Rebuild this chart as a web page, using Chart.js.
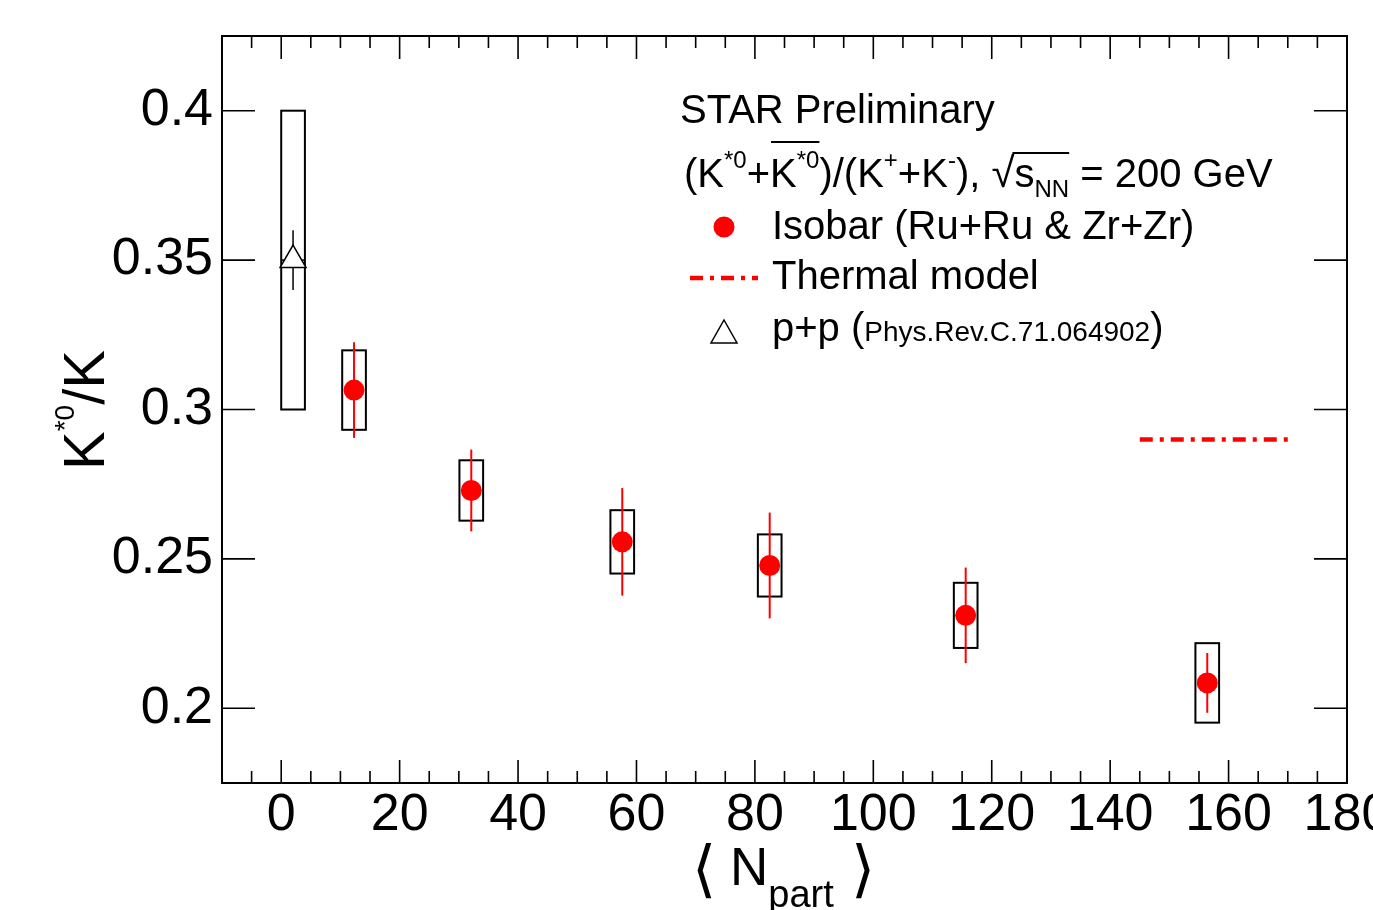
<!DOCTYPE html>
<html>
<head>
<meta charset="utf-8">
<title>K*0/K vs Npart</title>
<script src="https://cdn.jsdelivr.net/npm/chart.js@4.4.1/dist/chart.umd.min.js"></script>
<style>
  html, body { margin: 0; padding: 0; background: #fff; }
  canvas { display: block; }
</style>
</head>
<body>
<canvas id="ratioChart" width="1373" height="910"></canvas>
<script>
// Isobar (Ru+Ru & Zr+Zr) points
var npart = [12.3, 32.1, 57.6, 82.5, 115.6, 156.4];
var ratio = [0.3065, 0.2729, 0.2557, 0.2478, 0.2311, 0.2085];
var statErr = [0.0160, 0.0137, 0.0180, 0.0177, 0.0160, 0.0100];
var sysErr = [0.0133, 0.0101, 0.0106, 0.0104, 0.0109, 0.0133];

// p+p reference (Phys.Rev.C.71.064902)
var ppNpart = [2];
var ppRatio = [0.35];
var ppStat = [0.010];
var ppSys = [0.050];

// thermal model line
var thermalNpart = [145, 170];
var thermalRatio = [0.29, 0.29];

// axis ticks
var xTicks = [0, 20, 40, 60, 80, 100, 120, 140, 160, 180];
var xTickLabels = ['0', '20', '40', '60', '80', '100', '120', '140', '160', '180'];
var yTicks = [0.2, 0.25, 0.3, 0.35, 0.4];
var yTickLabels = ['0.2', '0.25', '0.3', '0.35', '0.4'];

var FONT = '"Liberation Sans", Arial, Helvetica, sans-serif';
var RED = '#ff0000';
var BOX_HALF = 2; // half width of the systematic boxes, in Npart units

function pts(xs, ys) {
  return xs.map(function (v, i) { return { x: v, y: ys[i] }; });
}

// write a run of text pieces with different sizes / vertical offsets
function rich(ctx, x, y, parts) {
  parts.forEach(function (p) {
    ctx.font = p.size + 'px ' + FONT;
    var w = ctx.measureText(p.t).width;
    ctx.fillText(p.t, x, y + (p.dy || 0));
    p.x0 = x; p.x1 = x + w;
    x += w;
  });
  return x;
}

var errorBars = {
  id: 'errorBars',
  beforeDatasetsDraw: function (chart) {
    var ctx = chart.ctx, xs = chart.scales.x, ys = chart.scales.y;
    ctx.save();
    // systematic boxes
    ctx.strokeStyle = '#000';
    ctx.lineWidth = 2;
    function box(xv, yv, s) {
      var l = xs.getPixelForValue(xv - BOX_HALF), r = xs.getPixelForValue(xv + BOX_HALF);
      var t = ys.getPixelForValue(yv + s), b = ys.getPixelForValue(yv - s);
      ctx.strokeRect(l, t, r - l, b - t);
    }
    npart.forEach(function (v, i) { box(v, ratio[i], sysErr[i]); });
    ppNpart.forEach(function (v, i) { box(v, ppRatio[i], ppSys[i]); });

    // statistical bars
    function bar(xv, yv, s, col) {
      var px = xs.getPixelForValue(xv);
      ctx.strokeStyle = col;
      ctx.beginPath();
      ctx.moveTo(px, ys.getPixelForValue(yv + s));
      ctx.lineTo(px, ys.getPixelForValue(yv - s));
      ctx.stroke();
    }
    ctx.lineWidth = 2;
    npart.forEach(function (v, i) { bar(v, ratio[i], statErr[i], RED); });
    ctx.lineWidth = 1.5;
    ppNpart.forEach(function (v, i) {
      bar(v, ppRatio[i], ppStat[i], '#000');
      var py = ys.getPixelForValue(ppRatio[i]);
      ctx.beginPath();
      ctx.moveTo(xs.getPixelForValue(v - BOX_HALF), py);
      ctx.lineTo(xs.getPixelForValue(v + BOX_HALF), py);
      ctx.stroke();
    });
    ctx.restore();
  }
};

var frameAndText = {
  id: 'frameAndText',
  afterDraw: function (chart) {
    var ctx = chart.ctx, a = chart.chartArea, xs = chart.scales.x, ys = chart.scales.y;
    ctx.save();
    ctx.strokeStyle = '#000';
    ctx.fillStyle = '#000';

    // frame
    ctx.lineWidth = 2;
    ctx.strokeRect(a.left, a.top, a.right - a.left, a.bottom - a.top);

    // inward ticks, x: major every 20, minor every 5
    ctx.lineWidth = 1.6;
    ctx.beginPath();
    for (var v = -10; v <= 180; v += 5) {
      var px = xs.getPixelForValue(v);
      var len = (v % 20 === 0) ? 23 : 12;
      ctx.moveTo(px, a.bottom); ctx.lineTo(px, a.bottom - len);
      ctx.moveTo(px, a.top); ctx.lineTo(px, a.top + len);
    }
    yTicks.forEach(function (t) {
      var py = ys.getPixelForValue(t);
      ctx.moveTo(a.left, py); ctx.lineTo(a.left + 33, py);
      ctx.moveTo(a.right, py); ctx.lineTo(a.right - 33, py);
    });
    ctx.stroke();

    ctx.textBaseline = 'alphabetic';
    ctx.textAlign = 'left';

    // y title K*0/K, rotated
    ctx.save();
    ctx.translate(104, 470);
    ctx.rotate(-Math.PI / 2);
    rich(ctx, 0, 0, [
      { t: 'K', size: 58 },
      { t: '*0', size: 28, dy: -30 },
      { t: '/K', size: 58 }
    ]);
    ctx.restore();

    // x title < N_part >
    ctx.font = '62px "DejaVu Sans", ' + FONT;
    ctx.fillText('\u27E8', 692, 890);
    rich(ctx, 730, 885, [
      { t: 'N', size: 53 },
      { t: 'part', size: 38, dy: 22 }
    ]);
    ctx.font = '62px "DejaVu Sans", ' + FONT;
    ctx.fillText('\u27E9', 851, 890);

    // legend / labels
    ctx.font = '40px ' + FONT;
    ctx.fillText('STAR Preliminary', 680, 123);

    var l2 = [
      { t: '(K', size: 40 },
      { t: '*0', size: 24, dy: -19 },
      { t: '+', size: 40 },
      { t: 'K', size: 40 },
      { t: '*0', size: 24, dy: -19 },
      { t: ')/(K', size: 40 },
      { t: '+', size: 24, dy: -19 },
      { t: '+K', size: 40 },
      { t: '-', size: 24, dy: -19 },
      { t: '), ', size: 40 },
      { t: '\u221A', size: 42 },
      { t: 's', size: 40 },
      { t: 'NN', size: 24, dy: 10 },
      { t: ' = 200 GeV', size: 40 }
    ];
    rich(ctx, 684, 187, l2);
    ctx.lineWidth = 2;
    ctx.beginPath();
    ctx.moveTo(l2[3].x0 + 1, 142); ctx.lineTo(l2[4].x1, 142);
    ctx.moveTo(l2[10].x1 - 2, 153); ctx.lineTo(l2[12].x1, 153);
    ctx.stroke();

    ctx.font = '40px ' + FONT;
    ctx.fillText('Isobar (Ru+Ru & Zr+Zr)', 772, 239);
    ctx.fillText('Thermal model', 772, 289);
    rich(ctx, 772, 341, [
      { t: 'p+p (', size: 40 },
      { t: 'Phys.Rev.C.71.064902', size: 28 },
      { t: ')', size: 40 }
    ]);

    // legend markers
    ctx.fillStyle = RED;
    ctx.beginPath();
    ctx.arc(724, 227, 10.5, 0, Math.PI * 2);
    ctx.fill();

    ctx.strokeStyle = RED;
    ctx.lineWidth = 4.5;
    ctx.setLineDash([13, 7, 4, 7]);
    ctx.beginPath();
    ctx.moveTo(690, 278); ctx.lineTo(758, 278);
    ctx.stroke();
    ctx.setLineDash([]);

    ctx.strokeStyle = '#000';
    ctx.lineWidth = 1.5;
    ctx.beginPath();
    ctx.moveTo(724, 320); ctx.lineTo(737, 343); ctx.lineTo(711, 343); ctx.closePath();
    ctx.stroke();

    ctx.restore();
  }
};

var ctx = document.getElementById('ratioChart').getContext('2d');
var ratioChart = new Chart(ctx, {
  type: 'scatter',
  data: {
    datasets: [{
      label: 'Isobar (Ru+Ru & Zr+Zr)',
      data: pts(npart, ratio),
      pointStyle: 'circle',
      pointRadius: 10.5,
      backgroundColor: RED,
      borderWidth: 0
    }, {
      label: 'p+p',
      data: pts(ppNpart, ppRatio),
      pointStyle: 'triangle',
      pointRadius: 15,
      backgroundColor: '#fff',
      borderColor: '#000',
      borderWidth: 1.5
    }, {
      label: 'Thermal model',
      data: pts(thermalNpart, thermalRatio),
      showLine: true,
      pointRadius: 0,
      borderColor: RED,
      borderWidth: 4.5,
      borderDash: [13, 7, 4, 7]
    }]
  },
  options: {
    responsive: false,
    animation: false,
    devicePixelRatio: 1,
    layout: { padding: { left: 0, top: 36, right: 26, bottom: 0 } },
    plugins: { legend: { display: false }, tooltip: { enabled: false } },
    scales: {
      x: {
        type: 'linear',
        min: -10,
        max: 180,
        grid: { display: false, drawTicks: false },
        border: { display: false },
        afterBuildTicks: function (s) { s.ticks = xTicks.map(function (v) { return { value: v }; }); },
        afterFit: function (s) { s.height = 127; s.paddingLeft = 0; s.paddingRight = 0; },
        ticks: {
          maxRotation: 0,
          autoSkip: false,
          padding: 1,
          color: '#000',
          font: { family: FONT, size: 52 },
          callback: function (v, i) { return xTickLabels[i]; }
        }
      },
      y: {
        min: 0.175,
        max: 0.425,
        grid: { display: false, drawTicks: false },
        border: { display: false },
        afterBuildTicks: function (s) { s.ticks = yTicks.map(function (v) { return { value: v }; }); },
        afterFit: function (s) { s.width = 222; s.paddingTop = 0; s.paddingBottom = 0; },
        ticks: {
          autoSkip: false,
          padding: 9,
          color: '#000',
          font: { family: FONT, size: 52 },
          callback: function (v, i) { return yTickLabels[i]; }
        }
      }
    }
  },
  plugins: [errorBars, frameAndText]
});
</script>
</body>
</html>
